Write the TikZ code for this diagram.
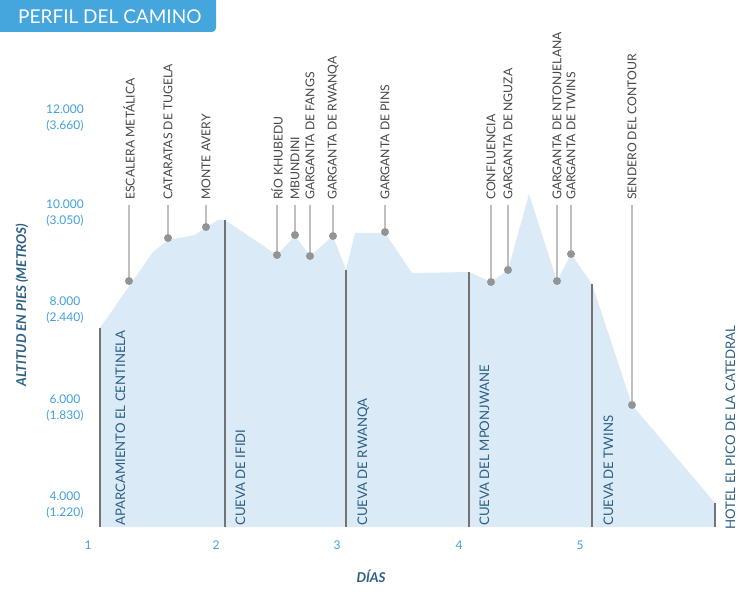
\documentclass[tikz,border=0pt]{standalone}
\usepackage{fontspec}
\setmainfont{Lato}
\begin{document}
\begin{tikzpicture}[x=1pt,y=-1pt,
  toplbl/.style={rotate=90,anchor=west,font=\fontsize{12.2}{14}\selectfont,text=black!72,inner sep=0pt},
  daylbl/.style={rotate=90,anchor=base west,font=\fontsize{13.2}{14}\selectfont,text=axisdark,inner sep=0pt},
  ylbl/.style={align=center,font=\fontsize{12}{15.5}\selectfont,text=axisblue},
  xlbl/.style={font=\fontsize{12}{14}\selectfont,text=axisblue},
  stem/.style={draw=black!25,line width=1.6pt},
  dot/.style={circle,fill=black!42,inner sep=0pt,minimum size=8pt},
  dayline/.style={draw=black!55,line width=1.2pt}]
\definecolor{axisblue}{HTML}{3FA0DB}
\definecolor{axisdark}{HTML}{2C5F85}
\definecolor{fillblue}{HTML}{DAEBF7}
\definecolor{titleblue}{HTML}{45A5DD}
\useasboundingbox (0,0) rectangle (750,601);
% title
\fill[titleblue] (0,0) -- (216,0) -- (216,28) arc[start angle=0,end angle=90,radius=4] -- (0,32) -- cycle;
\node[text=white,font=\fontsize{19}{20}\selectfont,anchor=west,inner sep=0pt] (title) at (18,17) {PERFIL DEL CAMINO};
% profile
\fill[fillblue] (100,328) -- (153,252) -- (168,240) -- (195,235) -- (205,228) -- (218,220) -- (225,220) -- (277,255) -- (295,236) -- (310,256) -- (333,236) -- (346,270) -- (355,233) -- (385,233) -- (412,273) -- (469,272) -- (491,282) -- (508,270) -- (529,194) -- (557,281) -- (571,254) -- (592,284) -- (632,405) -- (715,503) -- (715,527) -- (100,527) -- cycle;
% day lines
\foreach \n/\x/\y in {d1/100/328,d2/225/220,d3/346/270,d4/469/272,d5/592/284,d6/715/503}{
  \coordinate (\n t) at (\x,\y); \coordinate (\n b) at (\x,527);
  \draw[dayline] (\n t) -- (\n b);}
\node[daylbl] (c1) at (125,526) {APARCAMIENTO EL CENTINELA};
\node[daylbl] (c2) at (245,526) {CUEVA DE IFIDI};
\node[daylbl] (c3) at (367,526) {CUEVA DE RWANQA};
\node[daylbl] (c4) at (489,526) {CUEVA DEL MPONJWANE};
\node[daylbl] (c5) at (613,526) {CUEVA DE TWINS};
\node[daylbl] (c6) at (735,530) {HOTEL EL PICO DE LA CATEDRAL};
% points of interest
\foreach \n/\x/\y/\t in {p1/129/281/ESCALERA METÁLICA,p2/168/238/CATARATAS DE TUGELA,p3/206/227/MONTE AVERY,p4/277/255/RÍO KHUBEDU,p5/295/235/MBUNDINI,p6/310/256/GARGANTA DE FANGS,p7/333/236/GARGANTA DE RWANQA,p8/385/232/GARGANTA DE PINS,p9/491/282/CONFLUENCIA,p10/508/270/GARGANTA DE NGUZA,p11/557/281/GARGANTA DE NTONJELANA,p12/571/254/GARGANTA DE TWINS,p13/632/405/SENDERO DEL CONTOUR}{
  \node[toplbl] (\n l) at (\x,200) {\t};
  \node[dot] (\n d) at (\x,\y) {};
  \draw[stem] (\n l.west) ++(0,5) -- (\n d);}
% axes labels
\node[ylbl] (y12) at (65,118) {12.000\\(3.660)};
\node[ylbl] (y10) at (65,213) {10.000\\(3.050)};
\node[ylbl] (y8) at (65,310) {8.000\\(2.440)};
\node[ylbl] (y6) at (65,408) {6.000\\(1.830)};
\node[ylbl] (y4) at (65,505) {4.000\\(1.220)};
\node[xlbl] (x1) at (88,545) {1};
\node[xlbl] (x2) at (216,545) {2};
\node[xlbl] (x3) at (337,545) {3};
\node[xlbl] (x4) at (459,545) {4};
\node[xlbl] (x5) at (580,545) {5};
\node[text=axisdark,font=\fontsize{13.5}{14}\selectfont\bfseries\itshape] (xt) at (371,576) {DÍAS};
\node[rotate=90,text=axisdark,font=\fontsize{13.5}{14}\selectfont\bfseries\itshape] (yt) at (22,305) {ALTITUD EN PIES (METROS)};
\end{tikzpicture}
\end{document}
